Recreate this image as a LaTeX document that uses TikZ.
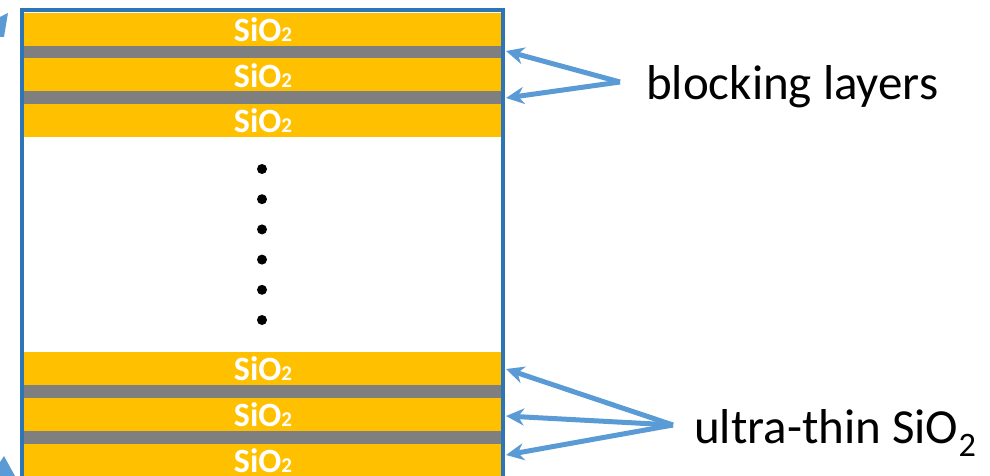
\documentclass[tikz,border=0pt]{standalone}
\usepackage{fontspec}
\setmainfont{Carlito}
\usetikzlibrary{arrows.meta}
\definecolor{oxide}{HTML}{FFC000}
\definecolor{barrier}{HTML}{7F7F7F}
\definecolor{frameblue}{HTML}{2E75B6}
\definecolor{arrowblue}{HTML}{5B9BD5}
\tikzset{
 oxidelabel/.style={text=white,font=\fontsize{34}{40}\selectfont\bfseries,inner sep=0pt},
 callout/.style={arrowblue,line width=5pt,-{Stealth[length=18pt,width=17pt]}},
 caption/.style={font=\fontsize{49}{60}\selectfont,anchor=base west,inner sep=0pt}
}
\begin{document}
\begin{tikzpicture}[x=1pt,y=-1pt]
 \useasboundingbox (0,0) rectangle (990,476);
 \clip (0,0) rectangle (990,476);
 % layer stack
 \foreach \t in {13,58.5,104,352,398,444}
  \fill[oxide] (22,\t) rectangle (503,\t+33);
 \foreach \t in {46,91.5,385,431}
  \fill[barrier] (22,\t) rectangle (503,\t+12.5);
 \foreach \t [count=\i] in {13,58.5,104,352,398,444}
  \node[oxidelabel] (ox\i) at (263,\t+17) {SiO{\fontsize{21}{22}\selectfont 2}};
 \foreach \y in {169,199.2,229.4,259.6,289.8,320}
  \fill (262,\y) circle (5pt);
 \draw[frameblue,line width=4pt] (22,490) -- (22,10) -- (503,10) -- (503,490);
 % cut-off arrows at the left edge
 \fill[arrowblue] (0,17) -- (8,13) -- (4,37) -- (0,37) -- cycle;
 \fill[arrowblue] (0,462) -- (4,456) -- (15,476) -- (0,476) -- cycle;
 % callouts
 \node[caption] (block) at (646,100) {blocking layers};
 \coordinate (bfork) at (620,82);
 \coordinate (b1) at (506,51);
 \coordinate (b2) at (506,98);
 \foreach \p in {b1,b2} \draw[callout] (bfork) -- (\p);
 \node[caption] (thin) at (694,443) {ultra-thin SiO\textsubscript{2}};
 \coordinate (tfork) at (673,425);
 \coordinate (t1) at (506,369);
 \coordinate (t2) at (506,416);
 \coordinate (t3) at (506,455);
 \foreach \p in {t1,t2,t3} \draw[callout] (tfork) -- (\p);
\end{tikzpicture}
\end{document}
